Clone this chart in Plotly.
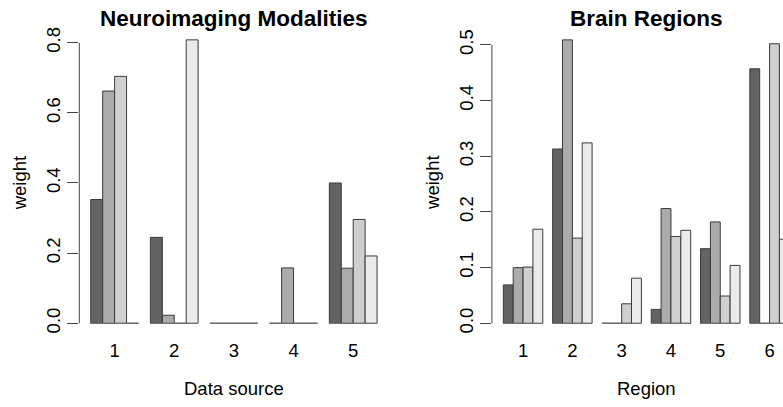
import plotly.graph_objects as go

# ---- data ----
modality_groups = ["1", "2", "3", "4", "5"]
modality_w1 = [0.353, 0.245, 0.0, 0.0, 0.400]
modality_w2 = [0.662, 0.023, 0.0, 0.158, 0.157]
modality_w3 = [0.704, 0.0, 0.0, 0.0, 0.296]
modality_w4 = [0.0, 0.808, 0.0, 0.0, 0.192]

region_groups = ["1", "2", "3", "4", "5", "6"]
region_w1 = [0.069, 0.313, 0.0, 0.025, 0.134, 0.457]
region_w2 = [0.100, 0.509, 0.0, 0.206, 0.182, 0.0]
region_w3 = [0.101, 0.153, 0.035, 0.156, 0.049, 0.502]
region_w4 = [0.169, 0.324, 0.081, 0.167, 0.104, 0.151]

y_ticks_left = [0.0, 0.2, 0.4, 0.6, 0.8]
y_ticks_right = [0.0, 0.1, 0.2, 0.3, 0.4, 0.5]

fills = ["#636363", "#ABABAB", "#CFCFCF", "#EBEBEB"]
border = "#3a3a3a"
FONT = "Liberation Sans, Arial, sans-serif"
W, H = 783, 407

fig = go.Figure()

def add_panel(series, groups, xa, ya):
    n = len(series)
    per = n + 1  # R barplot beside=TRUE, space=c(0,1)
    for j, vals in enumerate(series):
        xs = [1 + per * g + j + 0.5 for g in range(len(groups))]
        fig.add_trace(go.Bar(x=xs, y=vals, width=1, xaxis=xa, yaxis=ya,
                             marker=dict(color=fills[j], line=dict(color=border, width=1)),
                             showlegend=False))
    # zero-height borders / baselines for each group
    bx, by = [], []
    for g in range(len(groups)):
        bx += [1 + per * g, 1 + per * g + n, None]
        by += [0, 0, None]
    fig.add_trace(go.Scatter(x=bx, y=by, mode="lines", xaxis=xa, yaxis=ya,
                             line=dict(color="#7a7a7a", width=1), showlegend=False,
                             hoverinfo="skip"))
    return [1 + per * g + n / 2 for g in range(len(groups))], 1, per * len(groups)

tv_l, lo_l, hi_l = add_panel([modality_w1, modality_w2, modality_w3, modality_w4], modality_groups, "x", "y")
tv_r, lo_r, hi_r = add_panel([region_w1, region_w2, region_w3, region_w4], region_groups, "x2", "y2")

def xr(lo, hi):
    e = 0.04 * (hi - lo)
    return lo - e, hi + e

# pixel geometry (R-like plot regions)
top_px, bot_px = 28.4, 337.6
ydom = [1 - bot_px / H, 1 - top_px / H]

l0, l1 = xr(lo_l, hi_l)
left_px0 = 79.3
unit_l = 11.93
left_px1 = left_px0 + (l1 - l0) * unit_l

r0, r1 = xr(lo_r, hi_r)
right_px0 = 491.9
unit_r = 9.86
r_vis = r0 + (W - right_px0) / unit_r  # panel is clipped at the window edge

def yr(vals_max):
    lo = -0.01 * vals_max
    e = 0.04 * (vals_max - lo)
    return [lo - e, vals_max + e]

ymax_l = max(modality_w1 + modality_w2 + modality_w3 + modality_w4)
ymax_r = max(region_w1 + region_w2 + region_w3 + region_w4)

tickfont = dict(family=FONT, size=18.5, color="black")
xaxis_common = dict(showgrid=False, zeroline=False, showline=False, ticks="",
                    tickfont=tickfont)
yaxis_common = dict(showgrid=False, zeroline=False, showline=False, ticks="outside",
                    ticklen=11, tickwidth=1, tickcolor="#444", tickangle=-90, tickfont=tickfont)

fig.update_layout(
    width=W, height=H, margin=dict(l=0, r=0, t=0, b=0),
    paper_bgcolor="white", plot_bgcolor="white", barmode="overlay",
    xaxis=dict(domain=[left_px0 / W, left_px1 / W], range=[l0, l1],
               tickvals=tv_l, ticktext=modality_groups, **xaxis_common),
    yaxis=dict(domain=ydom, range=yr(ymax_l), tickvals=y_ticks_left,
               ticktext=[f"{v:.1f}" for v in y_ticks_left], **yaxis_common),
    xaxis2=dict(domain=[right_px0 / W, 1.0], range=[r0, r_vis], anchor="y2",
                tickvals=tv_r, ticktext=region_groups, **xaxis_common),
    yaxis2=dict(domain=ydom, range=yr(ymax_r), tickvals=y_ticks_right, anchor="x2",
                ticktext=[f"{v:.1f}" for v in y_ticks_right], **yaxis_common),
)

# R-style axis lines spanning first to last tick
fig.add_shape(type="line", xref="x domain", yref="y", x0=0, x1=0,
              y0=y_ticks_left[0], y1=y_ticks_left[-1], line=dict(color="#444", width=1))
fig.add_shape(type="line", xref="x2 domain", yref="y2", x0=0, x1=0,
              y0=y_ticks_right[0], y1=y_ticks_right[-1], line=dict(color="#444", width=1))

# titles and axis labels
cl = (left_px0 + left_px1) / 2
cr = right_px0 + (r1 - r0) * unit_r / 2
ann = [
    ("<b>Neuroimaging Modalities</b>", cl, 18, 22.5, 0),
    ("<b>Brain Regions</b>", cr, 18, 22.5, 0),
    ("Data source", cl, 388, 18.5, 0),
    ("Region", cr, 388, 18.5, 0),
    ("weight", left_px0 - 60, (top_px + bot_px) / 2, 18.5, -90),
    ("weight", right_px0 - 60, (top_px + bot_px) / 2, 18.5, -90),
]
for text, px, py, sz, ang in ann:
    fig.add_annotation(text=text, x=px / W, y=1 - py / H, xref="paper", yref="paper",
                       xanchor="center", yanchor="middle", showarrow=False, textangle=ang,
                       font=dict(family=FONT, size=sz, color="black"))

fig.write_html("out.html")
